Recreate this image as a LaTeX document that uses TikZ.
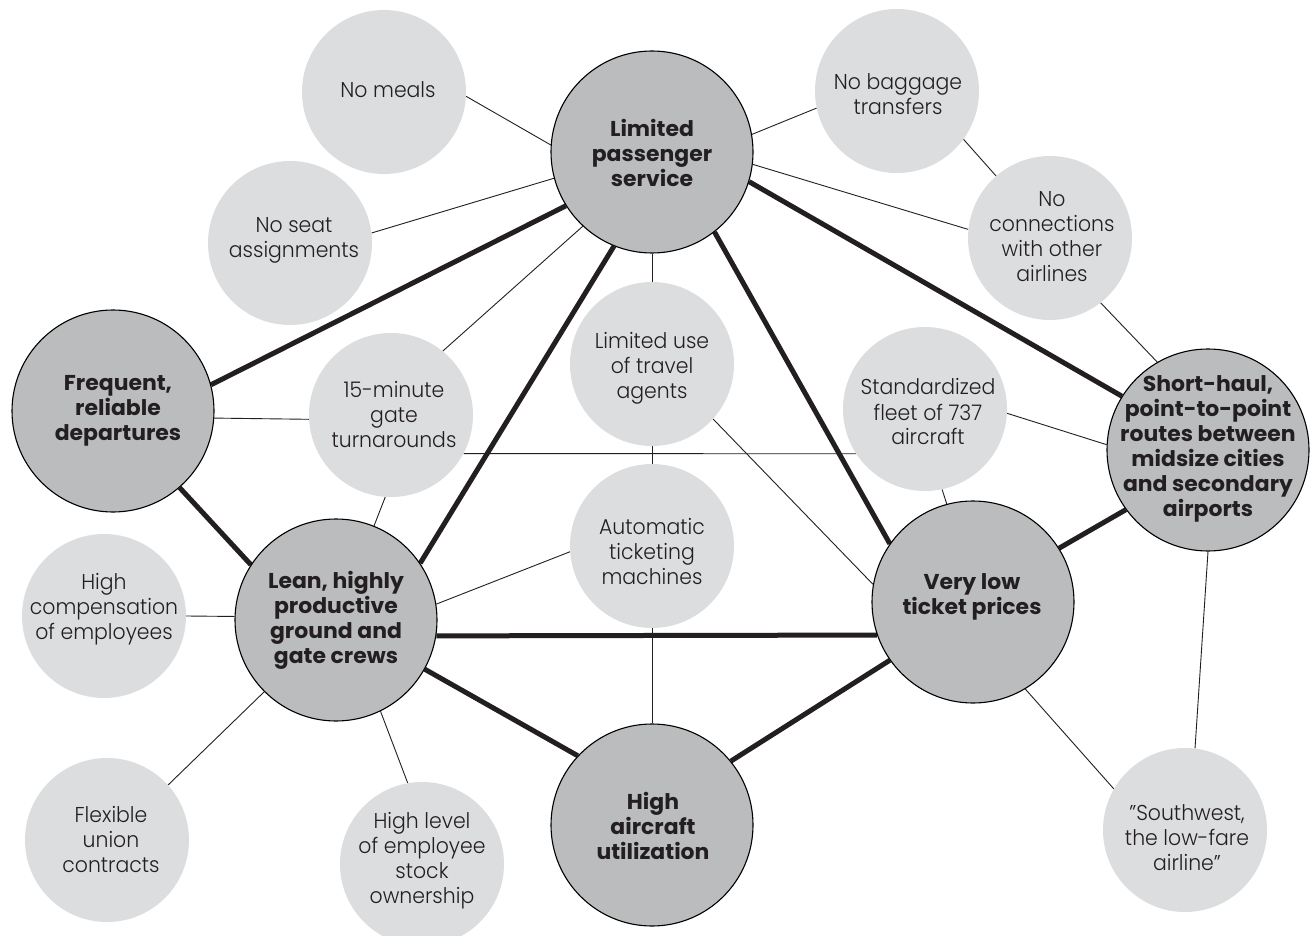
\documentclass[tikz,border=0pt]{standalone}
\usepackage{fontspec}
\setmainfont{Poppins}[UprightFont={* Light},BoldFont={* Bold}]
\newfontfamily\regfont{Poppins}[UprightFont={* Light},FakeStretch=0.95,Ligatures=TeX]
\newfontfamily\heavyfont{Poppins}[UprightFont={* Bold},FakeStretch=1.02,Ligatures=TeX]
\definecolor{darkfill}{HTML}{BBBCBE}
\definecolor{lightfill}{HTML}{DCDDDF}
\definecolor{inkcol}{HTML}{231F20}
\pgfdeclarelayer{bg}
\pgfsetlayers{bg,main}
\tikzset{
  darknode/.style={circle, draw=black, line width=1.1pt, fill=darkfill, minimum size=202pt, inner sep=0pt},
  lightnode/.style={circle, fill=lightfill, minimum size=164pt, inner sep=0pt},
  ltext/.style={align=center, font=\regfont\fontsize{21.5}{25}\selectfont, text=inkcol, inner sep=0pt},
  dtext/.style={align=center, font=\heavyfont\fontsize{21.5}{25}\selectfont, text=inkcol, inner sep=0pt},
  thinlink/.style={line width=0.9pt, draw=inkcol},
  thicklink/.style={line width=5pt, draw=inkcol},
}
\begin{document}
\begin{tikzpicture}[x=1pt,y=-1pt]
\useasboundingbox (0,0) rectangle (1315,936);
% circles
\node[darknode] (lps) at (652,152) {};
\node[darknode] (freq) at (113,411) {};
\node[darknode] (lean) at (336,620) {};
\node[darknode] (hau) at (652,825) {};
\node[darknode] (vlow) at (973,602) {};
\node[darknode] (shaul) at (1208,450) {};
\node[lightnode] (meals) at (384,92) {};
\node[lightnode] (seat) at (290,243) {};
\node[lightnode] (bag) at (897,91) {};
\node[lightnode] (conn) at (1050,238) {};
\node[lightnode] (agents) at (652,364) {};
\node[lightnode] (turn) at (391,415) {};
\node[lightnode] (fleet) at (925,409) {};
\node[lightnode] (ticket) at (652,546) {};
\node[lightnode] (comp) at (104,616) {};
\node[lightnode] (union) at (107,840) {};
\node[lightnode] (stock) at (422,864) {};
\node[lightnode] (sw) at (1185,830) {};
% texts
\node[dtext] (lpsT) at (652,153) {Limited\\passenger\\service};
\node[dtext] (freqT) at (118,411) {Frequent,\\reliable\\departures};
\node[dtext] (leanT) at (336,620) {Lean, highly\\productive\\ground and\\gate crews};
\node[dtext] (hauT) at (653,826) {High\\aircraft\\utilization};
\node[dtext] (vlowT) at (972,597) {Very low\\ticket prices};
\node[dtext] (shaulT) at (1208,449) {Short-haul,\\point-to-point\\routes between\\midsize cities\\and secondary\\airports};
\node[ltext] (mealsT) at (388,90) {No meals};
\node[ltext] (seatT) at (294,240) {No seat\\assignments};
\node[ltext] (bagT) at (898,94) {No baggage\\transfers};
\node[ltext] (connT) at (1052,237) {No\\connections\\with other\\airlines};
\node[ltext] (agentsT) at (652,368) {Limited use\\of travel\\agents};
\node[ltext] (turnT) at (394,415) {15-minute\\gate\\turnarounds};
\node[ltext] (fleetT) at (928,412) {Standardized\\fleet of 737\\aircraft};
\node[ltext] (ticketT) at (652,551) {Automatic\\ticketing\\machines};
\node[ltext] (compT) at (104,609) {High\\compensation\\of employees};
\node[ltext] (unionT) at (111,839) {Flexible\\union\\contracts};
\node[ltext] (stockT) at (422,861) {High level\\of employee\\stock\\ownership};
\node[ltext] (swT) at (1187,838) {”Southwest,\\the low-fare\\airline”};
\begin{pgfonlayer}{bg}
\fill[white] (0,0) rectangle (1315,936);
\draw[thinlink] (meals.-3) -- (lps.176);
\draw[thinlink] (seat.7) -- (lps.195);
\draw[thicklink] (freq.15) -- (lps.212);
\draw[thinlink] (turn.51) -- (lps.227);
\draw[thicklink] (lean.34) -- (lps.248);
\draw[thinlink] (freq.-4.5) -- (turn.183);
\draw[thinlink] (lps.south) -- (agents.north);
\draw[thinlink] (turn.-28) -- (fleet.213);
\draw[thinlink] (agents.south) -- (ticket.north);
\draw[thinlink] (ticket.south) -- (hau.north);
\draw[thinlink] (agents.-42.5) -- (vlow.170);
\draw[thicklink] (lps.-52) -- (vlow.145.5);
\draw[thicklink] (lps.-17) -- (shaul.148);
\draw[thinlink] (lps.10.5) -- (bag.192);
\draw[thinlink] (lps.-7) -- (conn.174);
\draw[thinlink] (bag.-36) -- (conn.131);
\draw[thinlink] (conn.-52) -- (shaul.120);
\draw[thinlink] (fleet.-3) -- (shaul.177);
\draw[thinlink] (fleet.-78) -- (vlow.105);
\draw[thicklink] (vlow.32) -- (shaul.216);
\draw[thicklink] (lean.-9) -- (vlow.199);
\draw[thicklink] (vlow.215.5) -- (hau.39);
\draw[thinlink] (vlow.-59) -- (sw.150);
\draw[thinlink] (shaul.-90) -- (sw.83);
\draw[thicklink] (freq.-49) -- (lean.147);
\draw[thinlink] (turn.266) -- (lean.68);
\draw[thinlink] (lean.9) -- (ticket.184);
\draw[thinlink] (comp.0) -- (lean.178);
\draw[thinlink] (union.42) -- (lean.225);
\draw[thinlink] (stock.100) -- (lean.-64);
\draw[thicklink] (lean.-29.5) -- (hau.137);
\end{pgfonlayer}
\end{tikzpicture}
\end{document}
